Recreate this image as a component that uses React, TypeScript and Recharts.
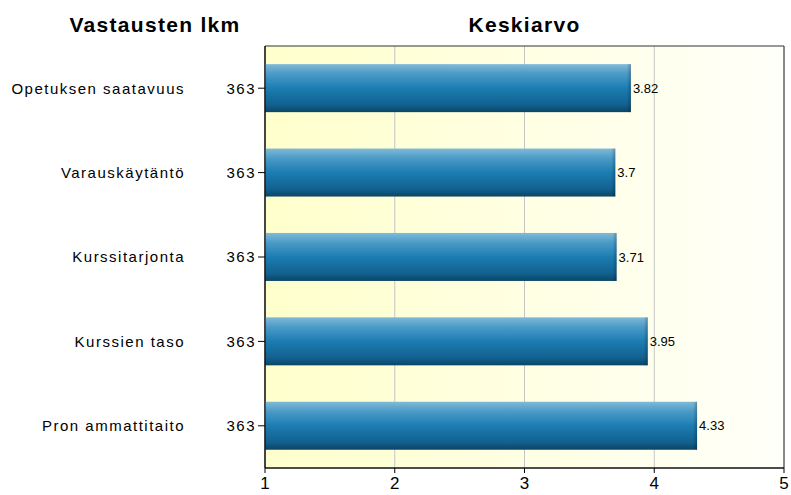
import React from 'react';
import {
  BarChart,
  Bar,
  XAxis,
  YAxis,
  CartesianGrid,
  LabelList,
  ReferenceArea,
} from 'recharts';

// categories, answer counts and means
const categories = [
  'Opetuksen saatavuus',
  'Varauskäytäntö',
  'Kurssitarjonta',
  'Kurssien taso',
  'Pron ammattitaito',
];
const counts = [363, 363, 363, 363, 363];
const means = [3.82, 3.7, 3.71, 3.95, 4.33];
const xTicks = [1, 2, 3, 4, 5];

const data = categories.map((name, i) => ({
  name,
  count: String(counts[i]),
  mean: means[i],
}));

const FONT = 'Arial, "Liberation Sans", sans-serif';

// bar with vertical shine plus a darker strip at the end
const GlossyBar = (props: any) => {
  const { x, y, width, height } = props;
  if (!width || width <= 0) return null;
  return (
    <g>
      <rect x={x} y={y} width={width} height={height} fill="url(#barFill)" />
      <rect x={x + width - 4} y={y} width={4} height={height} fill="url(#barEdge)" />
    </g>
  );
};

const headingStyle: React.CSSProperties = {
  position: 'absolute',
  top: 13,
  textAlign: 'center',
  fontFamily: FONT,
  fontWeight: 'bold',
  fontSize: 21,
  letterSpacing: 1.3,
  color: '#000',
};

export default function App() {
  return (
    <div style={{ position: 'absolute', left: 0, top: 0, width: 791, height: 495, background: '#fff' }}>
      <div style={{ ...headingStyle, left: 0, width: 310 }}>Vastausten lkm</div>
      <div style={{ ...headingStyle, left: 265, width: 519 }}>Keskiarvo</div>
      <BarChart
        width={791}
        height={495}
        data={data}
        layout="vertical"
        margin={{ top: 46, right: 7, bottom: 0, left: 0 }}
        barCategoryGap="21.5%"
        style={{ position: 'absolute', left: 0, top: 0 }}
      >
        <defs>
          <linearGradient id="plotBg" x1="0" y1="0" x2="1" y2="0">
            <stop offset="0%" stopColor="#FFFFCC" />
            <stop offset="100%" stopColor="#FFFFFA" />
          </linearGradient>
          <linearGradient id="barFill" x1="0" y1="0" x2="0" y2="1">
            <stop offset="0%" stopColor="#80BAD8" />
            <stop offset="20%" stopColor="#4B9BC7" />
            <stop offset="50%" stopColor="#1C7DB2" />
            <stop offset="85%" stopColor="#11608E" />
            <stop offset="100%" stopColor="#0B4566" />
          </linearGradient>
          <linearGradient id="barEdge" x1="0" y1="0" x2="1" y2="0">
            <stop offset="0%" stopColor="#000" stopOpacity={0} />
            <stop offset="100%" stopColor="#000" stopOpacity={0.25} />
          </linearGradient>
        </defs>
        <CartesianGrid
          horizontal={false}
          stroke="#C4C4C4"
          strokeDasharray=""
          fill="url(#plotBg)"
          fillOpacity={1}
        />
        <XAxis
          type="number"
          domain={[1, 5]}
          ticks={xTicks}
          allowDataOverflow
          height={27}
          axisLine={{ stroke: '#000' }}
          tickLine={{ stroke: '#000' }}
          tickSize={5}
          tickMargin={4}
          tick={{ fill: '#000', fontSize: 17, fontFamily: FONT }}
        />
        <YAxis
          yAxisId="count"
          type="category"
          dataKey="count"
          width={80}
          axisLine={{ stroke: '#000' }}
          tickLine={{ stroke: '#000' }}
          tickSize={7}
          tickMargin={2}
          tick={{ fill: '#000', fontSize: 15, fontFamily: FONT, letterSpacing: 1.5 } as any}
          allowDuplicatedCategory
        />
        <YAxis
          yAxisId="name"
          type="category"
          dataKey="name"
          width={185}
          axisLine={false}
          tickLine={false}
          tickSize={0}
          tickMargin={0}
          tick={{ fill: '#000', fontSize: 15, fontFamily: FONT, letterSpacing: 1.5 } as any}
        />
        <Bar
          yAxisId="count"
          dataKey="mean"
          shape={GlossyBar}
          isAnimationActive={false}
        >
          <LabelList
            dataKey="mean"
            position="right"
            offset={2}
            fill="#000"
            fontSize={13}
            fontFamily={FONT}
          />
        </Bar>
        <ReferenceArea
          yAxisId="count"
          x1={1}
          x2={5}
          fill="none"
          fillOpacity={0}
          stroke="#333"
          strokeWidth={1}
          ifOverflow="visible"
        />
      </BarChart>
    </div>
  );
}
